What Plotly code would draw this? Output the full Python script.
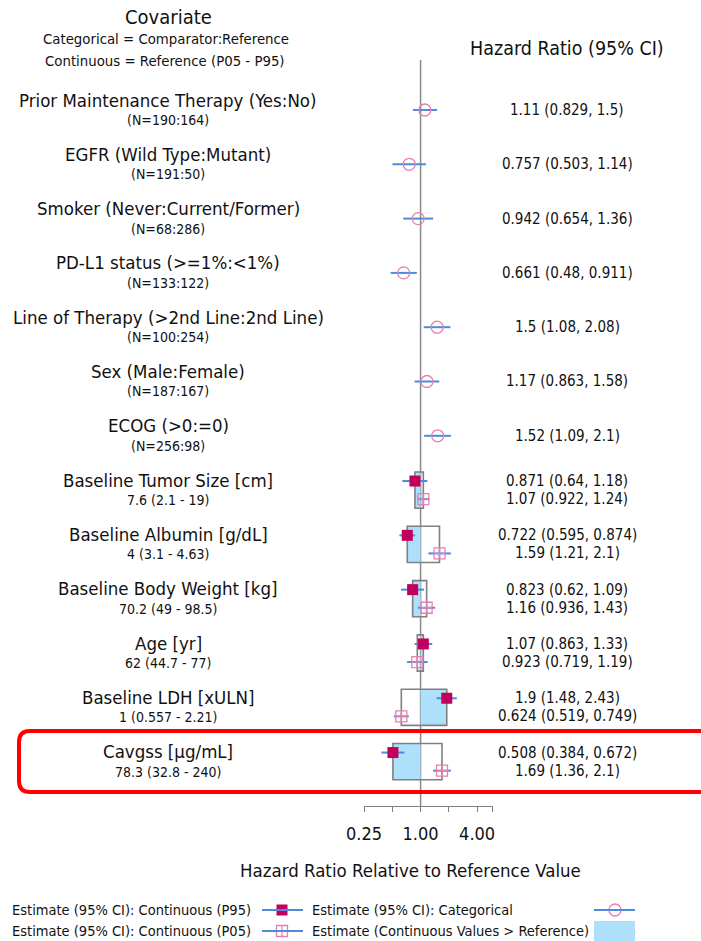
import numpy as np
import plotly.graph_objects as go

# ---------------- data ----------------
cat_labels = ["Prior Maintenance Therapy (Yes:No)", "EGFR (Wild Type:Mutant)",
              "Smoker (Never:Current/Former)", "PD-L1 status (>=1%:<1%)",
              "Line of Therapy (>2nd Line:2nd Line)", "Sex (Male:Female)", "ECOG (>0:=0)"]
cat_sub = ["(N=190:164)", "(N=191:50)", "(N=68:286)", "(N=133:122)",
           "(N=100:254)", "(N=187:167)", "(N=256:98)"]
cat_hr = [1.11, 0.757, 0.942, 0.661, 1.5, 1.17, 1.52]
cat_lo = [0.829, 0.503, 0.654, 0.48, 1.08, 0.863, 1.09]
cat_hi = [1.5, 1.14, 1.36, 0.911, 2.08, 1.58, 2.1]
cat_txt = ["1.11 (0.829, 1.5)", "0.757 (0.503, 1.14)", "0.942 (0.654, 1.36)",
           "0.661 (0.48, 0.911)", "1.5 (1.08, 2.08)", "1.17 (0.863, 1.58)", "1.52 (1.09, 2.1)"]

con_labels = ["Baseline Tumor Size [cm]", "Baseline Albumin [g/dL]", "Baseline Body Weight [kg]",
              "Age [yr]", "Baseline LDH [xULN]", "Cavgss [µg/mL]"]
con_sub = ["7.6 (2.1 - 19)", "4 (3.1 - 4.63)", "70.2 (49 - 98.5)", "62 (44.7 - 77)",
           "1 (0.557 - 2.21)", "78.3 (32.8 - 240)"]
p95_hr = [0.871, 0.722, 0.823, 1.07, 1.9, 0.508]
p95_lo = [0.64, 0.595, 0.62, 0.863, 1.48, 0.384]
p95_hi = [1.18, 0.874, 1.09, 1.33, 2.43, 0.672]
p05_hr = [1.07, 1.59, 1.16, 0.923, 0.624, 1.69]
p05_lo = [0.922, 1.21, 0.936, 0.719, 0.519, 1.36]
p05_hi = [1.24, 2.1, 1.43, 1.19, 0.749, 2.1]
p95_txt = ["0.871 (0.64, 1.18)", "0.722 (0.595, 0.874)", "0.823 (0.62, 1.09)",
           "1.07 (0.863, 1.33)", "1.9 (1.48, 2.43)", "0.508 (0.384, 0.672)"]
p05_txt = ["1.07 (0.922, 1.24)", "1.59 (1.21, 2.1)", "1.16 (0.936, 1.43)",
           "0.923 (0.719, 1.19)", "0.624 (0.519, 0.749)", "1.69 (1.36, 2.1)"]

tick_vals = [0.25, 0.5, 1, 2, 4, 5.87]
tick_text = ["0.25", "", "1.00", "", "4.00", ""]

# ---------------- style ----------------
FONT = "DejaVu Sans Condensed, Liberation Sans Narrow, Roboto Condensed, sans-serif"
W, H = 701, 941
BLUE = "#4a8bdb"
CRIMSON = "#c0005c"
PINK = "#e87fb3"
FILL = "#aee0fb"
GREY = "#808080"

n_cat = len(cat_labels)
n_con = len(con_labels)
cat_y = [3 * i for i in range(n_cat)]
con_y = [3 * (n_cat + i) for i in range(n_con)]
p95_y = [c - 0.5 for c in con_y]
p05_y = [c + 0.5 for c in con_y]

fig = go.Figure()

def ci_segments(lo, hi, ys):
    xs, yy = [], []
    for a, b, y in zip(lo, hi, ys):
        xs += [a, b, None]
        yy += [y, y, None]
    return xs, yy

for lo, hi, ys in [(cat_lo, cat_hi, cat_y), (p95_lo, p95_hi, p95_y), (p05_lo, p05_hi, p05_y)]:
    xs, yy = ci_segments(lo, hi, ys)
    fig.add_trace(go.Scatter(x=xs, y=yy, mode="lines", line=dict(color=BLUE, width=2),
                             showlegend=False, hoverinfo="skip", cliponaxis=False))

fig.add_trace(go.Scatter(x=cat_hr, y=cat_y, mode="markers",
                         marker=dict(symbol="circle-open", size=12, color=PINK, line=dict(width=1.3)),
                         showlegend=False, cliponaxis=False))
fig.add_trace(go.Scatter(x=p95_hr, y=p95_y, mode="markers",
                         marker=dict(symbol="square", size=11, color=CRIMSON), showlegend=False,
                         cliponaxis=False))
fig.add_trace(go.Scatter(x=p05_hr, y=p05_y, mode="markers",
                         marker=dict(symbol="square-cross-open", size=11, color=PINK, line=dict(width=1.3)),
                         showlegend=False, cliponaxis=False))

shapes = []
# boxes for continuous covariates
for a, b, c in zip(p95_hr, p05_hr, con_y):
    shapes.append(dict(type="rect", xref="x", yref="y", x0=1, x1=a, y0=c - 1, y1=c + 1,
                       fillcolor=FILL, line=dict(width=0), layer="below"))
for a, b, c in zip(p95_hr, p05_hr, con_y):
    shapes.append(dict(type="rect", xref="x", yref="y", x0=min(a, b), x1=max(a, b), y0=c - 1, y1=c + 1,
                       fillcolor="rgba(0,0,0,0)", line=dict(color=GREY, width=1.6), layer="below"))
# reference line
shapes.append(dict(type="line", xref="x", yref="y domain", x0=1, x1=1, y0=0, y1=1,
                   line=dict(color="#8a8a8a", width=1.5), layer="below"))

# red rounded highlight box (pixel overlay coords)
def rrect(x0, y0, x1, y1, r):
    return (f"M {x0+r},{y0} L {x1-r},{y0} Q {x1},{y0} {x1},{y0+r} L {x1},{y1-r} "
            f"Q {x1},{y1} {x1-r},{y1} L {x0+r},{y1} Q {x0},{y1} {x0},{y1-r} "
            f"L {x0},{y0+r} Q {x0},{y0} {x0+r},{y0} Z")
shapes.append(dict(type="path", xref="x2", yref="y2", path=rrect(19, 731, 712, 792, 11),
                   line=dict(color="#ff0000", width=4)))

# legend glyph lines and fill swatch
for (x0, x1, y) in [(262, 303, 910), (262, 303, 931), (594, 635, 910)]:
    shapes.append(dict(type="line", xref="x2", yref="y2", x0=x0, x1=x1, y0=y, y1=y,
                       line=dict(color=BLUE, width=2)))
shapes.append(dict(type="rect", xref="x2", yref="y2", x0=594, x1=635, y0=921, y1=941,
                   fillcolor=FILL, line=dict(width=0)))

# legend markers on overlay axis
fig.add_trace(go.Scatter(x=[282], y=[910], xaxis="x2", yaxis="y2", mode="markers",
                         marker=dict(symbol="square", size=11, color=CRIMSON), showlegend=False, cliponaxis=False))
fig.add_trace(go.Scatter(x=[282], y=[931], xaxis="x2", yaxis="y2", mode="markers",
                         marker=dict(symbol="square-cross-open", size=11, color=PINK, line=dict(width=1.3)),
                         showlegend=False, cliponaxis=False))
fig.add_trace(go.Scatter(x=[615], y=[910], xaxis="x2", yaxis="y2", mode="markers",
                         marker=dict(symbol="circle-open", size=12, color=PINK, line=dict(width=1.3)),
                         showlegend=False, cliponaxis=False))

ann = []
def T(x, y, text, size, xref="x2", yref="y2", xanchor="center", color="#111"):
    ann.append(dict(x=x, y=y, xref=xref, yref=yref, text=text, showarrow=False,
                    xanchor=xanchor, yanchor="middle", font=dict(family=FONT, size=size, color=color)))

LX = 168
RX = 567
for lab, sub, y, t in zip(cat_labels, cat_sub, cat_y, cat_txt):
    T(LX, y - 0.55, lab, 18.5, yref="y")
    T(LX, y + 0.55, sub, 14, yref="y")
    T(RX, y, t, 15, yref="y")
for lab, sub, y, a, b in zip(con_labels, con_sub, con_y, p95_txt, p05_txt):
    T(LX, y - 0.55, lab, 18.5, yref="y")
    T(LX, y + 0.55, sub, 14, yref="y")
    T(RX, y - 0.5, a, 15, yref="y")
    T(RX, y + 0.5, b, 15, yref="y")

# headers
T(168, 17, "Covariate", 20)
T(166, 38, "Categorical = Comparator:Reference", 14.8)
T(165, 60, "Continuous = Reference (P05 - P95)", 14.8)
T(567, 48, "Hazard Ratio (95% CI)", 19.5)
T(410, 870, "Hazard Ratio Relative to Reference Value", 18.5)

# legend text
T(10, 910, "Estimate (95% CI): Continuous (P95)", 14.5, xanchor="left")
T(10, 931, "Estimate (95% CI): Continuous (P05)", 14.5, xanchor="left")
T(310, 910, "Estimate (95% CI): Categorical", 14.5, xanchor="left")
T(310, 931, "Estimate (Continuous Values > Reference)", 14.5, xanchor="left")

PLOT_L, PLOT_R, PLOT_T, PLOT_B = 364, 493, 60, 806
px_unit = 54.3 / 3
y_top = (PLOT_T - 110) / px_unit
y_bot = (PLOT_B - 110) / px_unit

fig.update_layout(
    width=W, height=H, margin=dict(l=0, r=0, t=0, b=0, autoexpand=False),
    plot_bgcolor="rgba(0,0,0,0)", paper_bgcolor="white",
    shapes=shapes, annotations=ann,
    font=dict(family=FONT, color="#111"),
    xaxis=dict(type="log", domain=[PLOT_L / W, PLOT_R / W],
               range=[np.log10(0.25), np.log10(5.9)],
               tickvals=tick_vals, ticktext=tick_text, ticks="outside", ticklen=5,
               tickcolor=GREY, showline=True, linecolor=GREY, linewidth=1.2,
               showgrid=False, zeroline=False, tickfont=dict(family=FONT, size=18, color="#111"),
               ticklabelstandoff=6, anchor="y", automargin=False),
    yaxis=dict(domain=[1 - PLOT_B / H, 1 - PLOT_T / H], range=[y_bot, y_top],
               visible=False, showgrid=False, zeroline=False),
    xaxis2=dict(domain=[0, 1], range=[0, W], visible=False, anchor="y2"),
    yaxis2=dict(domain=[0, 1], range=[H, 0], visible=False, anchor="x2"),
)

fig.write_html("out.html", config={"displayModeBar": False},
               post_script="document.body.style.margin='0';document.body.style.overflow='hidden';")
